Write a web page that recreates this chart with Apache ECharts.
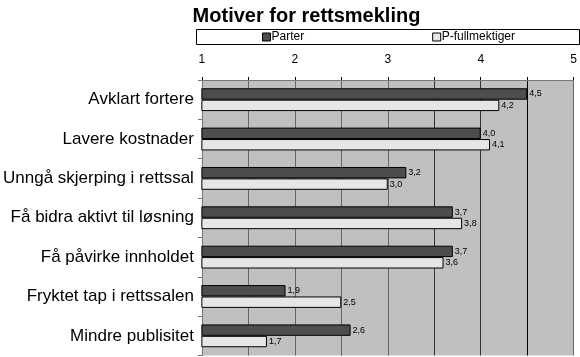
<!DOCTYPE html>
<html>
<head>
<meta charset="utf-8">
<script src="https://cdn.jsdelivr.net/npm/echarts@6/dist/echarts.min.js"></script>
<style>
html,body{margin:0;padding:0;background:#fff;}
#chart{width:580px;height:357px;}
</style>
</head>
<body>
<div id="chart"></div>
<script>
const title = 'Motiver for rettsmekling';
const categories = ['Avklart fortere','Lavere kostnader','Unngå skjerping i rettssal','Få bidra aktivt til løsning','Få påvirke innholdet','Fryktet tap i rettssalen','Mindre publisitet'];
const seriesNames = ['Parter','P-fullmektiger'];
const parter = [4.5, 4.0, 3.2, 3.7, 3.7, 1.9, 2.6];
const fullmektiger = [4.2, 4.1, 3.0, 3.8, 3.6, 2.5, 1.7];
const axisMin = 1, axisMax = 5;

const FONT = '"Liberation Sans", Arial, Helvetica, sans-serif';
const fmt = v => v.toFixed(1).replace('.', ',');
const chart = echarts.init(document.getElementById('chart'), null, {renderer:'canvas'});
const labelCfg = {
  show:true, position:'right', distance:2,
  fontFamily:FONT, fontSize:9, color:'#000',
  formatter: p => fmt(p.value)
};
chart.setOption({
  animation:false,
  backgroundColor:'#fff',
  title:{
    text:title, left:301.5, textAlign:'center', top:1,
    textStyle:{fontFamily:FONT, fontSize:20, fontWeight:'bold', color:'#000'}
  },
  graphic:[{
    type:'rect', left:196, top:29, silent:true, z:-1,
    shape:{width:383, height:15},
    style:{fill:'#fff', stroke:'#000', lineWidth:1}
  }],
  legend:{
    data:seriesNames,
    orient:'horizontal',
    icon:'rect',
    left:262, top:31,
    padding:0,
    itemGap:128,
    itemWidth:8, itemHeight:8,
    itemStyle:{borderWidth:1, borderColor:'#000'},
    textStyle:{fontFamily:FONT, fontSize:12, color:'#000', padding:[0,0,0,-4]}
  },
  grid:{left:201, right:2.5, top:80, bottom:1.5},
  xAxis:{
    type:'value', position:'top', min:axisMin, max:axisMax, interval:0.5,
    axisLine:{show:true, lineStyle:{color:'#777', width:1}},
    axisTick:{show:true, length:3, lineStyle:{color:'#000'}},
    axisLabel:{
      fontFamily:FONT, fontSize:12, color:'#000', margin:14,
      formatter: v => (Math.abs(v - Math.round(v)) < 1e-9 ? String(Math.round(v)) : '')
    },
    splitLine:{show:true, lineStyle:{color:['#666','#666','#666','#666','#666','#333','#333','#000','#666'], width:1}}
  },
  yAxis:{
    type:'category', data:categories, inverse:true,
    axisLine:{show:true, lineStyle:{color:'#777'}},
    axisTick:{show:true, length:4, lineStyle:{color:'#777'}},
    axisLabel:{fontFamily:FONT, fontSize:17, color:'#000', margin:8},
    splitArea:{show:true, areaStyle:{color:['#c0c0c0','#c0c0c0']}}
  },
  series:[
    {name:seriesNames[0], type:'bar', data:parter, barGap:'0%', barCategoryGap:'42%',
     itemStyle:{color:'#4d4d4d', borderColor:'#000', borderWidth:1}, label:labelCfg},
    {name:seriesNames[1], type:'bar', data:fullmektiger, barGap:'0%', barCategoryGap:'42%',
     itemStyle:{color:'#e6e6e6', borderColor:'#000', borderWidth:1}, label:labelCfg}
  ]
});
</script>
</body>
</html>
